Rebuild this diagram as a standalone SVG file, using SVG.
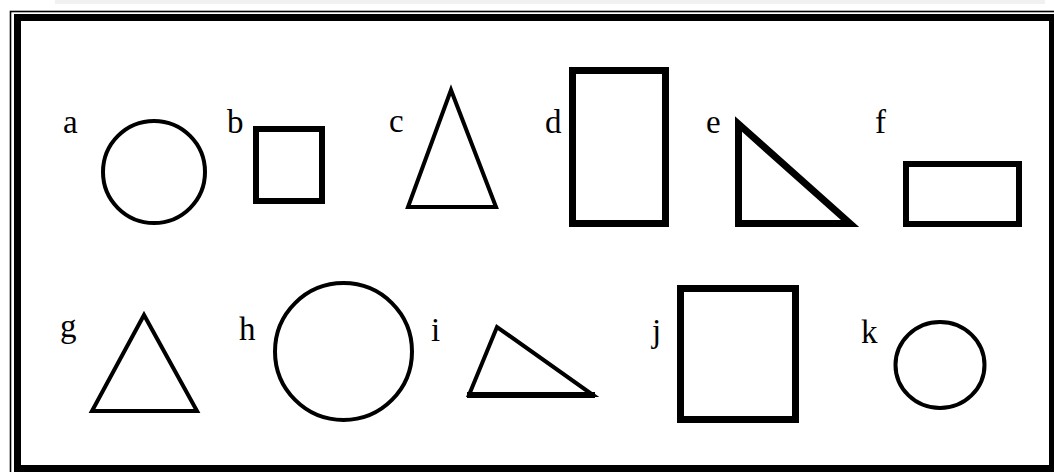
<svg xmlns="http://www.w3.org/2000/svg" width="1054" height="472" viewBox="0 0 1054 472">
<style>
.lbl{font-family:"Liberation Serif","Times New Roman",serif;font-size:33px;fill:#000}
.s4{fill:#fff;stroke:#000;stroke-width:4;stroke-linejoin:miter}
.s6{fill:#fff;stroke:#000;stroke-width:6}
.s7{fill:#fff;stroke:#000;stroke-width:7}
</style>
<rect x="0" y="0" width="1054" height="472" fill="#fff"/>
<rect x="55" y="0" width="990" height="4" fill="#f1f1f1"/>
<g id="frame">
<rect x="10.5" y="11.5" width="1060" height="470" fill="none" stroke="#000" stroke-width="1.6"/>
<rect x="17.5" y="17.5" width="1035" height="451" fill="#fff" stroke="#000" stroke-width="7"/>
</g>
<g id="a"><text class="lbl" x="63" y="133">a</text><circle class="s4" cx="154" cy="172" r="51"/></g>
<g id="b"><text class="lbl" x="227" y="133">b</text><rect class="s6" x="256" y="129" width="66" height="72"/></g>
<g id="c"><text class="lbl" x="389" y="132">c</text><polygon class="s4" points="451,90 408,207 496,207"/></g>
<g id="d"><text class="lbl" x="545" y="133">d</text><rect class="s7" x="572.5" y="70.5" width="93" height="153"/></g>
<g id="e"><text class="lbl" x="706" y="133">e</text><polygon class="s7" points="738.5,124 738.5,223.5 850,223.5"/></g>
<g id="f"><text class="lbl" x="875" y="133">f</text><rect class="s6" x="906" y="164" width="113" height="60"/></g>
<g id="g"><text class="lbl" x="60" y="337">g</text><polygon class="s4" points="144,315 92,411 197,411"/></g>
<g id="h"><text class="lbl" x="239" y="340">h</text><circle class="s4" cx="343.5" cy="351.5" r="68.5"/></g>
<g id="i"><text class="lbl" x="431" y="341">i</text><polygon class="s4" points="497,327 469,395 593,395"/><line x1="467" y1="395" x2="595" y2="395" stroke="#000" stroke-width="6"/></g>
<g id="j"><text class="lbl" x="652" y="342">j</text><rect class="s7" x="680.5" y="288.5" width="115" height="131"/></g>
<g id="k"><text class="lbl" x="861" y="343">k</text><ellipse class="s4" cx="940" cy="365" rx="44.5" ry="43"/></g>
</svg>
